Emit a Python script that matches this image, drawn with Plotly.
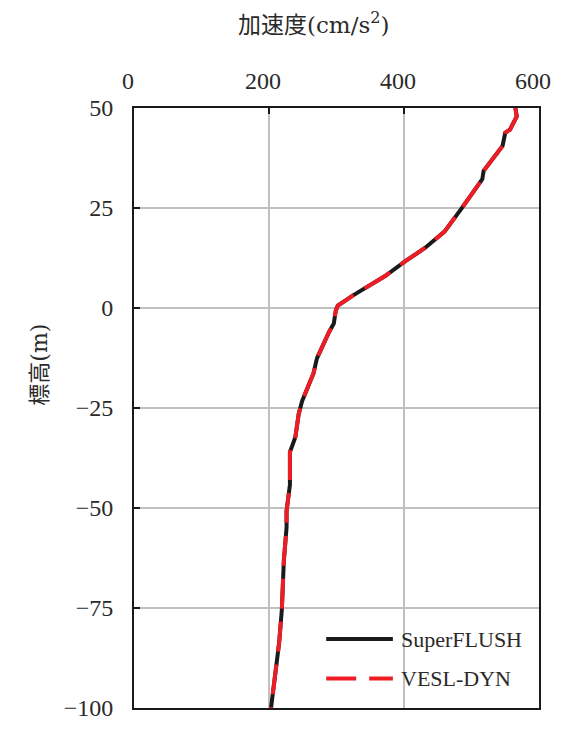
import plotly.graph_objects as go

# Peak acceleration profile versus elevation
elevation = [50, 47.9, 44.6, 43.8, 40.5, 36.4, 34.3, 32.2, 30.2, 25.3, 19.1, 15.0,
             11.7, 8.0, 3.1, 0.6, -0.6, -3.9, -6.0, -12.6, -16.3, -23.3, -26.5,
             -32.3, -36.0, -44.2, -50.8, -54.9, -63.1, -75.5, -83.7, -100]
acc_superflush = [565, 567, 557, 550, 546, 528, 518, 516, 508, 487, 460, 431,
                  402, 372, 324, 302, 299, 296, 289, 271, 266, 249, 244,
                  239, 231, 231, 226, 226, 222, 219, 215, 203]
acc_vesl = [565, 567, 557, 550, 546, 528, 518, 516, 508, 487, 460, 431,
            402, 372, 324, 302, 299, 296, 289, 271, 266, 249, 244,
            239, 231, 231, 226, 226, 222, 219, 215, 203]

series_names = ["SuperFLUSH", "VESL-DYN"]
x_ticks = [0, 200, 400, 600]
y_ticks = [50, 25, 0, -25, -50, -75, -100]

FONT = "Liberation Serif, Noto Sans CJK JP, serif"
TITLE_FONT = "DejaVu Serif, Noto Sans CJK JP, serif"
TEXT = "#2a2a2a"

fig = go.Figure()
fig.add_trace(go.Scatter(x=acc_superflush, y=elevation, mode="lines",
                         name=series_names[0],
                         line=dict(color="#1a1a1a", width=4)))
fig.add_trace(go.Scatter(x=acc_vesl, y=elevation, mode="lines",
                         name=series_names[1],
                         line=dict(color="#ee1c25", width=4, dash="30px,13px")))

fig.update_layout(
    width=563, height=733,
    margin=dict(l=134, r=16, t=108, b=16),
    plot_bgcolor="white", paper_bgcolor="white",
    showlegend=False,
    font=dict(family=FONT, size=24, color=TEXT),
)
axis_common = dict(showgrid=True, gridcolor="#c0c0c0", gridwidth=2,
                   showline=True, linecolor="#1a1a1a", linewidth=2, mirror=True,
                   ticks="inside", ticklen=6, tickwidth=2, tickcolor="#1a1a1a",
                   zeroline=False, tickfont=dict(family=FONT, size=24, color=TEXT))
fig.update_xaxes(side="top", range=[0, 600], tickvals=x_ticks,
                 ticklabelshift=-6, ticklabelstandoff=7, **axis_common)
fig.update_yaxes(range=[-100, 50], tickvals=y_ticks,
                 ticklabelstandoff=14, **axis_common)

# Axis titles
fig.add_annotation(text="加速度(cm/s<sup>2</sup>)", xref="paper", yref="paper",
                   x=(317 - 134) / 413, y=1, yshift=85, showarrow=False,
                   yanchor="middle",
                   font=dict(family=TITLE_FONT, size=23, color=TEXT))
fig.add_annotation(text="標高(m)", xref="paper", yref="paper", textangle=-90,
                   x=0, xshift=-109, y=(717 - 369) / 609, showarrow=False,
                   font=dict(family=TITLE_FONT, size=22, color=TEXT))

# Legend drawn in the lower-right corner of the plot area
legend_rows = [(series_names[0], dict(color="#1a1a1a", width=4), (717 - 647) / 609),
               (series_names[1], dict(color="#ee1c25", width=4, dash="30px,13px"),
                (717 - 687) / 609)]
for name, ln, yy in legend_rows:
    fig.add_shape(type="line", xref="paper", yref="paper",
                  x0=(330 - 134) / 413, x1=(398 - 134) / 413, y0=yy, y1=yy, line=ln)
    fig.add_annotation(text=name, xref="paper", yref="paper",
                       x=(404 - 134) / 413, y=yy,
                       xanchor="left", yanchor="middle", showarrow=False,
                       font=dict(family=FONT, size=22, color=TEXT))

fig.write_html("out.html")
